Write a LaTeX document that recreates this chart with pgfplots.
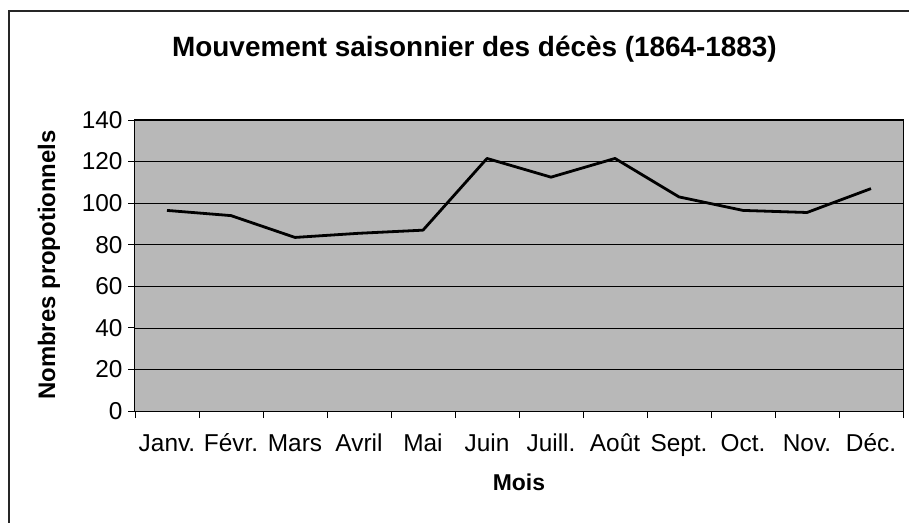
\documentclass[border=0pt]{standalone}
\usepackage{pgfplots}
\pgfplotsset{compat=1.18}
\usepackage{fontspec}
\setmainfont{Liberation Sans}
\begin{document}
\begin{tikzpicture}
\clip (-135bp,-112bp) rectangle (774bp,411bp);
\useasboundingbox (-135bp,-112bp) rectangle (774bp,411bp);
\draw[line width=1.2bp, black!85] (-126bp,-140bp) -- (-126bp,400bp) -- (800bp,400bp);
\begin{axis}[
  at={(0,0)}, anchor=south west,
  scale only axis, width=768bp, height=291bp,
  xmin=-0.5, xmax=11.5, ymin=0, ymax=140,
  xtick={-0.5,0.5,...,11.5},
  x tick label as interval,
  xticklabels={Janv.,Févr.,Mars,Avril,Mai,Juin,Juill.,Août,Sept.,Oct.,Nov.,Déc.},
  ytick={0,20,...,140},
  tick pos=left,
  major tick length=7bp,
  tick style={black, line width=0.8bp},
  tick align=outside,
  ymajorgrids,
  grid style={black, line width=0.7bp},
  axis line style={black, line width=1bp},
  axis background/.style={fill=black!28},
  /pgf/number format/assume math mode=true,
  ticklabel style={font=\fontsize{24.5}{24.5}\selectfont},
  yticklabel style={xshift=-2bp},
  xticklabel style={anchor=base, yshift=-33bp},
  clip=false,
]
\addplot[black, line width=2.8bp, sharp plot, line join=round] coordinates {
  (0,96.5) (1,94) (2,83.5) (3,85.5) (4,87) (5,121.5) (6,112.5) (7,121.5) (8,103) (9,96.5) (10,95.5) (11,107)
};
\end{axis}
\node[anchor=base, font=\bfseries\fontsize{28}{28}\selectfont] at (339.5bp,354bp) {Mouvement saisonnier des décès (1864-1883)};
\node[rotate=90, font=\bfseries\fontsize{24}{24}\selectfont] at (-86bp,146bp) {Nombres propotionnels};
\node[anchor=base, font=\bfseries\fontsize{23}{23}\selectfont] at (384bp,-79bp) {Mois};
\end{tikzpicture}
\end{document}
